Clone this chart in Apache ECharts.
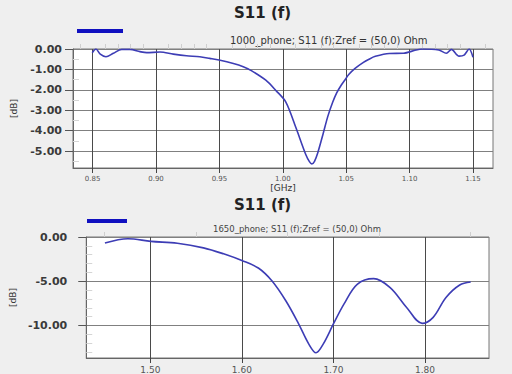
<!DOCTYPE html>
<html>
<head>
<meta charset="utf-8">
<script src="https://cdn.jsdelivr.net/npm/echarts@6/dist/echarts.min.js"></script>
<style>
html,body{margin:0;padding:0;background:#efefef;}
#c{width:512px;height:374px;}
</style>
</head>
<body>
<div id="c"></div>
<script>
// ---- Top chart data (1000_phone) ----
const freqTop = [0.8497, 0.8526, 0.8560, 0.8605, 0.8663, 0.8729, 0.8794, 0.8873, 0.8926, 0.9031, 0.9136, 0.9240, 0.9345, 0.9424, 0.9497, 0.9610, 0.9688, 0.9755, 0.9866, 0.9945, 1.0024, 1.0103, 1.0181, 1.0210, 1.0229, 1.0250, 1.0276, 1.0316, 1.0355, 1.0394, 1.0425, 1.0458, 1.0490, 1.0520, 1.0570, 1.0630, 1.0680, 1.0730, 1.0840, 1.0950, 1.1050, 1.1100, 1.1230, 1.1290, 1.1330, 1.1390, 1.1430, 1.1470, 1.1500];
const s11Top  = [-0.18, 0.00, -0.25, -0.38, -0.21, -0.02, -0.02, -0.13, -0.18, -0.15, -0.25, -0.33, -0.38, -0.46, -0.54, -0.71, -0.87, -1.07, -1.53, -2.03, -2.60, -3.85, -5.17, -5.52, -5.63, -5.50, -5.08, -4.20, -3.30, -2.60, -2.15, -1.80, -1.52, -1.25, -0.95, -0.68, -0.50, -0.36, -0.22, -0.21, -0.05, 0.00, -0.05, -0.21, -0.02, -0.35, -0.30, 0.00, -0.40];
const xTicksTop = [0.85, 0.90, 0.95, 1.00, 1.05, 1.10, 1.15];
const yTicksTop = [0.00, -1.00, -2.00, -3.00, -4.00, -5.00];
const xMinorTop = [0.84, 0.86, 0.87, 0.88, 0.89, 0.91, 0.92, 0.93, 0.94, 0.96, 0.97, 0.98, 0.99, 1.01, 1.02, 1.03, 1.04, 1.06, 1.07, 1.08, 1.09, 1.11, 1.12, 1.13, 1.14, 1.16];
const yMinorTop = [-0.5, -1.5, -2.5, -3.5, -4.5, -5.5];

// ---- Bottom chart data (1650_phone) ----
const freqBot = [1.4504, 1.4755, 1.5007, 1.5295, 1.5580, 1.5800, 1.6000, 1.6180, 1.6330, 1.6480, 1.6620, 1.6730, 1.6810, 1.6890, 1.7000, 1.7115, 1.7260, 1.7440, 1.7620, 1.7800, 1.7970, 1.8090, 1.8230, 1.8380, 1.8500];
const s11Bot  = [-0.67, -0.19, -0.49, -0.71, -1.23, -1.90, -2.65, -3.50, -4.97, -7.20, -9.80, -12.06, -13.07, -12.06, -9.82, -7.58, -5.34, -4.70, -5.71, -7.95, -9.75, -9.07, -6.83, -5.42, -5.08];
const xTicksBot = [1.50, 1.60, 1.70, 1.80];
const yTicksBot = [0.00, -5.00, -10.00];
const xMinorBot = [1.45, 1.55, 1.65, 1.75, 1.85];
const yMinorBot = [-1, -2, -3, -4, -6, -7, -8, -9, -11, -12, -13];

const pairs = (xs, ys) => xs.map((x, i) => [x, ys[i]]);
const FONT = 'DejaVu Sans';

function mainX(grid, min, max, ticks, fs, name) {
  return {
    type: 'value', gridIndex: grid, min: min, max: max, position: 'bottom',
    name: name || '', nameLocation: 'middle', nameGap: 15,
    nameTextStyle: {fontFamily: FONT, fontSize: 9, color: '#333'},
    axisLine: {show: true, onZero: false, lineStyle: {color: '#666'}},
    axisTick: {show: true, inside: false, length: 5, customValues: ticks, lineStyle: {color: '#444'}},
    axisLabel: {customValues: ticks, margin: 7, fontFamily: FONT, fontSize: fs, color: '#555',
      formatter: v => v.toFixed(2)},
    splitLine: {show: true, lineStyle: {color: '#4a4a4a', width: 1}}
  };
}
function mainY(grid, min, max, ticks, margin, gap) {
  return {
    type: 'value', gridIndex: grid, min: min, max: max, position: 'left',
    name: '[dB]', nameLocation: 'middle', nameRotate: 90, nameGap: gap,
    nameTextStyle: {fontFamily: FONT, fontSize: 9, color: '#333'},
    axisLine: {show: true, onZero: false, lineStyle: {color: '#666'}},
    axisTick: {show: true, inside: false, length: 8, customValues: ticks, lineStyle: {color: '#555'}},
    axisLabel: {customValues: ticks, margin: margin, fontFamily: FONT, fontSize: 11, fontWeight: 'bold', color: '#3a3a3a',
      formatter: v => v.toFixed(2)},
    splitLine: {show: true, lineStyle: {color: '#808080', width: 1}}
  };
}
function minorX(grid, min, max, ticks) {
  return {
    type: 'value', gridIndex: grid, min: min, max: max, position: 'bottom', offset: 0,
    axisLine: {show: false}, axisLabel: {show: false}, splitLine: {show: false},
    axisTick: {show: true, inside: true, length: 5, customValues: ticks, lineStyle: {color: '#cfcfcf'}}
  };
}
function minorY(grid, min, max, ticks) {
  return {
    type: 'value', gridIndex: grid, min: min, max: max, position: 'left', offset: 0,
    axisLine: {show: false}, axisLabel: {show: false}, splitLine: {show: false},
    axisTick: {show: true, inside: true, length: 6, customValues: ticks, lineStyle: {color: '#d5d5d5'}}
  };
}

const chart = echarts.init(document.getElementById('c'), null, {renderer: 'svg'});
chart.setOption({
  backgroundColor: '#efefef',
  animation: false,
  grid: [
    {left: 73, top: 49, width: 420, height: 119, show: true, backgroundColor: '#fff', borderColor: '#777', borderWidth: 1},
    {left: 81, top: 237, width: 408, height: 122, show: true, backgroundColor: '#fff', borderColor: '#777', borderWidth: 1}
  ],
  xAxis: [
    mainX(0, 0.8345, 1.1658, xTicksTop, 7, '[GHz]'),
    minorX(0, 0.8345, 1.1658, xMinorTop),
    mainX(1, 1.43, 1.87, xTicksBot, 9),
    minorX(1, 1.43, 1.87, xMinorBot)
  ],
  yAxis: [
    mainY(0, -5.83, 0, yTicksTop, 11, 55),
    minorY(0, -5.83, 0, yMinorTop),
    mainY(1, -13.66, 0, yTicksBot, 19, 63),
    minorY(1, -13.66, 0, yMinorBot)
  ],
  series: [
    {type: 'line', xAxisIndex: 0, yAxisIndex: 0, data: pairs(freqTop, s11Top), smooth: 0.3,
      showSymbol: false, lineStyle: {color: '#3d3db5', width: 1.6}},
    {type: 'line', xAxisIndex: 2, yAxisIndex: 2, data: pairs(freqBot, s11Bot), smooth: 0.35,
      showSymbol: false, lineStyle: {color: '#3d3db5', width: 1.6}}
  ],
  graphic: [
    {type: 'text', left: 234, top: 5, style: {text: 'S11 (f)', font: 'bold 15px "DejaVu Sans"', fill: '#222'}},
    {type: 'text', left: 230, top: 35, style: {text: '1000_phone; S11 (f);Zref = (50,0) Ohm', font: '10px "DejaVu Sans"', fill: '#333'}},
    {type: 'rect', shape: {x: 77, y: 29, width: 46, height: 4}, style: {fill: '#1010c0'}},
    {type: 'text', left: 234, top: 197, style: {text: 'S11 (f)', font: 'bold 15px "DejaVu Sans"', fill: '#222'}},
    {type: 'text', left: 213, top: 224, style: {text: '1650_phone; S11 (f);Zref = (50,0) Ohm', font: '8.5px "DejaVu Sans"', fill: '#444'}},
    {type: 'rect', shape: {x: 87, y: 219, width: 40, height: 4}, style: {fill: '#1010c0'}}
  ]
});
</script>
</body>
</html>
